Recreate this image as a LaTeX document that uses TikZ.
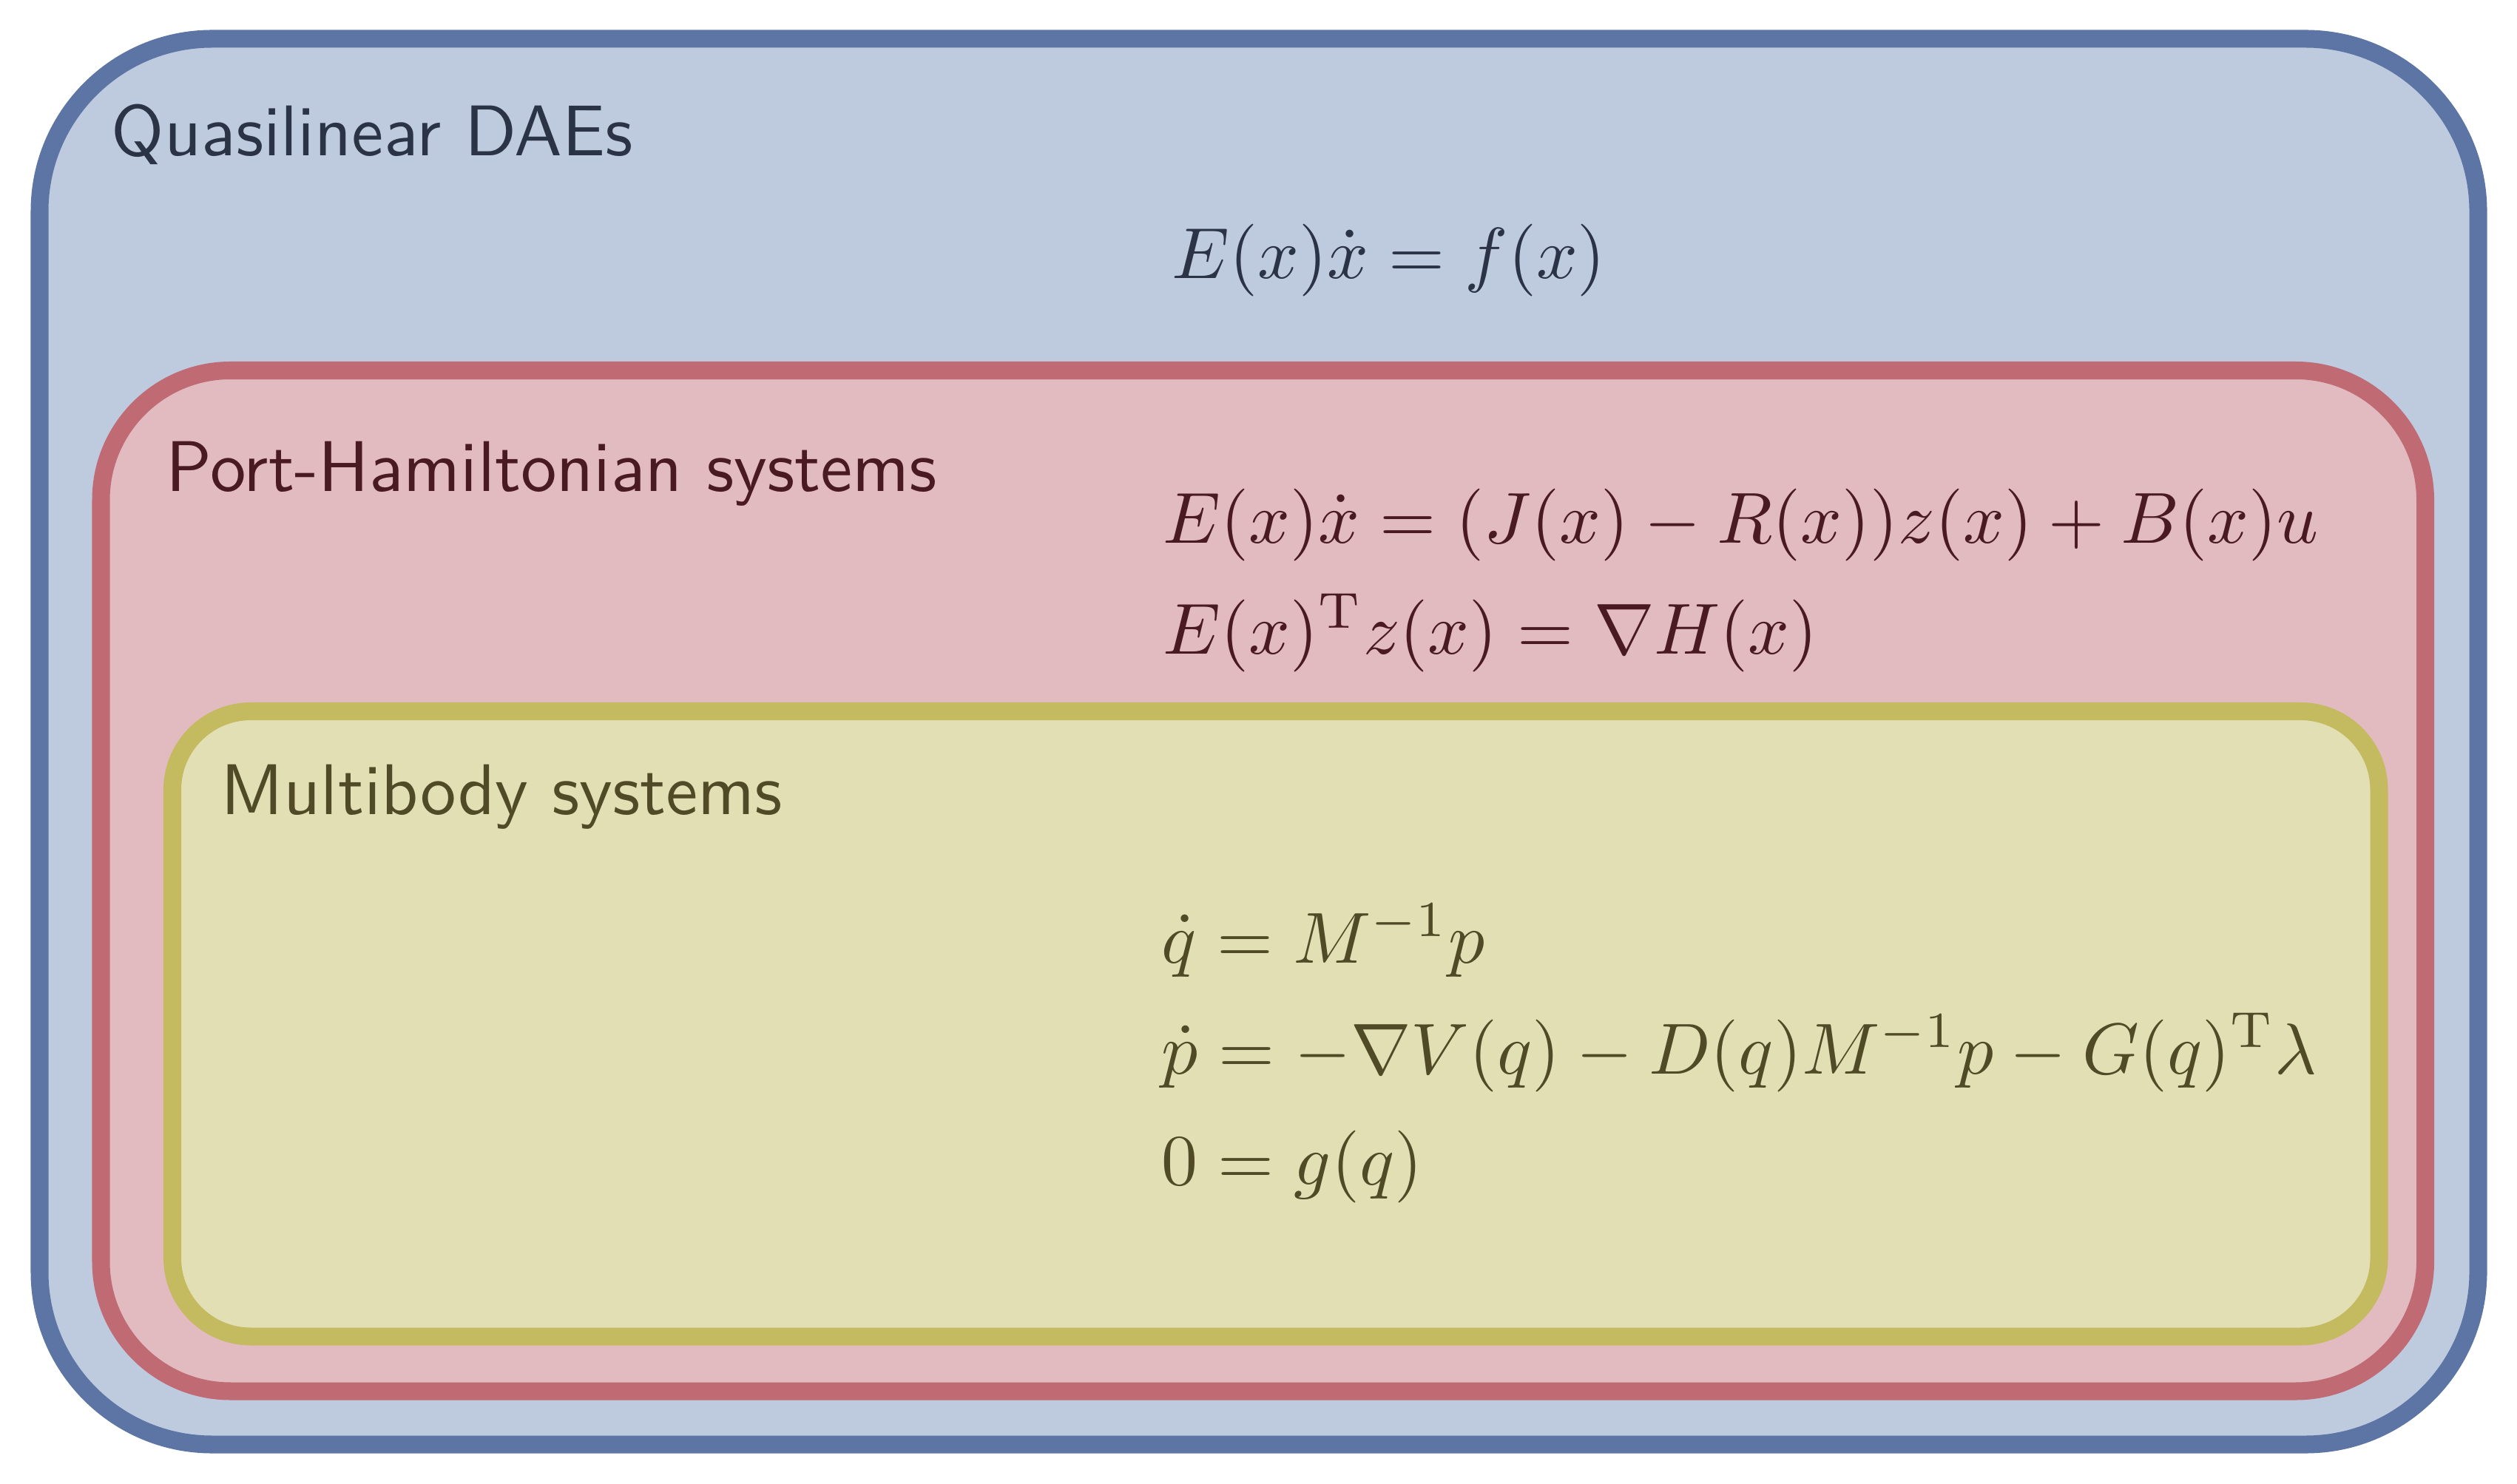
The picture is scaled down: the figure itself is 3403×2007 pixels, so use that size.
\documentclass[tikz,border=0pt]{standalone}
\usepackage{graphicx}
\usepackage{amsmath}
\definecolor{bstroke}{RGB}{92,117,164}
\definecolor{bfill}{RGB}{190,203,223}
\definecolor{btext}{RGB}{43,52,71}
\definecolor{rstroke}{RGB}{192,107,116}
\definecolor{rfill}{RGB}{225,187,192}
\definecolor{rtext}{RGB}{74,26,34}
\definecolor{ystroke}{RGB}{196,186,96}
\definecolor{yfill}{RGB}{227,223,181}
\definecolor{ytext}{RGB}{80,74,38}
\newcommand{\ttl}[1]{\scalebox{2.76}{\sffamily #1}}
\newcommand{\eqm}[1]{\scalebox{2.78}{$#1$}}
\tikzset{
  setbox/.style={line width=0.24cm},
  title/.style={anchor=base west, inner sep=0pt},
  eqn/.style={anchor=base west, inner sep=0pt},
}
\begin{document}
\begin{tikzpicture}[x=0.01cm,y=-0.01cm]
\useasboundingbox (0,0) rectangle (3403,2007);
\draw[setbox, draw=bstroke, fill=bfill, rounded corners=2.33cm] (53.5,52.5) rectangle (3350.5,1953.5);
\draw[setbox, draw=rstroke, fill=rfill, rounded corners=1.75cm] (136.5,501) rectangle (3279,1881.5);
\draw[setbox, draw=ystroke, fill=yfill, rounded corners=1.06cm] (233,962) rectangle (3216.5,1807.5);

\node[title, text=btext] (t1) at (150,211) {\ttl{Quasilinear DAEs}};
\node[title, text=rtext] (t2) at (224,665) {\ttl{Port-Hamiltonian systems}};
\node[title, text=ytext] (t3) at (298,1101) {\ttl{Multibody systems}};

\node[eqn, text=btext] (e1) at (1584,377) {\eqm{E(x)\dot{x} = f(x)}};
\node[eqn, text=rtext] (e2) at (1572,735) {\eqm{E(x)\dot{x} = (J(x) - R(x))z(x) + B(x)u}};
\node[eqn, text=rtext] (e3) at (1572,885) {\eqm{E(x)^{\mathrm{T}}z(x) = \nabla H(x)}};
\node[eqn, text=ytext] (e4) at (1570,1302) {\eqm{\dot{q} = M^{-1}p}};
\node[eqn, text=ytext] (e5) at (1570,1452) {\eqm{\dot{p} = -\nabla V(q) - D(q)M^{-1}p - G(q)^{\mathrm{T}}\lambda}};
\node[eqn, text=ytext] (e6) at (1570,1602) {\eqm{0 = g(q)}};
\end{tikzpicture}
\end{document}
